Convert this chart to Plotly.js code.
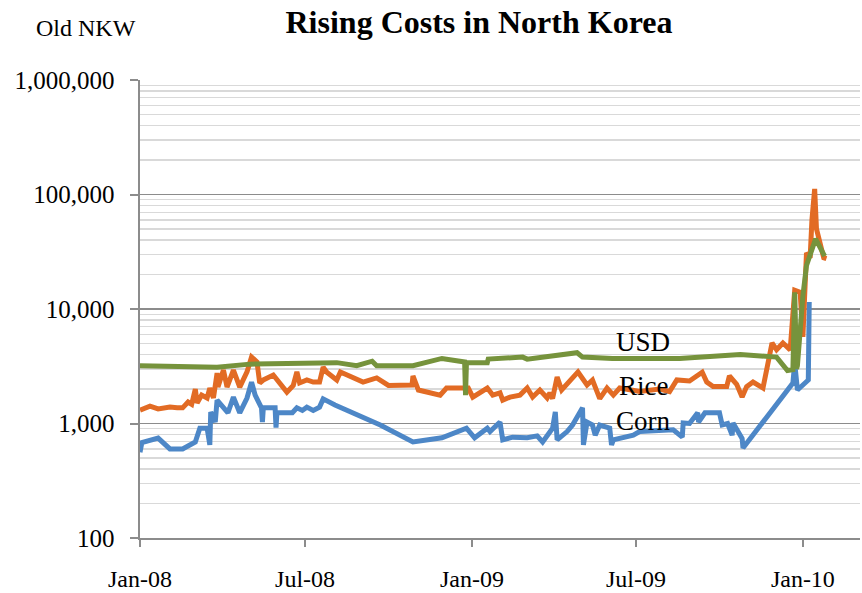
<!DOCTYPE html>
<html>
<head>
<meta charset="utf-8">
<script src="https://cdn.plot.ly/plotly-3.0.1.min.js"></script>
<style>html,body{margin:0;padding:0;background:#fff;}#chart{width:862px;height:593px;}</style>
</head>
<body>
<div id="chart"></div>
<script>
// ---- data ----
const cornDates = ["2008-01-01","2008-01-03","2008-01-21","2008-02-03","2008-02-17","2008-03-02","2008-03-07","2008-03-15","2008-03-18","2008-03-19","2008-03-24","2008-03-26","2008-04-07","2008-04-13","2008-04-20","2008-04-28","2008-05-03","2008-05-07","2008-05-14","2008-05-15","2008-05-16","2008-05-29","2008-05-30","2008-05-31","2008-06-17","2008-06-22","2008-06-28","2008-07-03","2008-07-10","2008-07-17","2008-07-21","2008-08-03","2008-09-22","2008-10-28","2008-11-29","2008-12-26","2009-01-04","2009-01-18","2009-01-21","2009-02-01","2009-02-04","2009-02-15","2009-03-03","2009-03-14","2009-03-20","2009-03-25","2009-03-31","2009-04-03","2009-04-05","2009-04-16","2009-04-22","2009-05-03","2009-05-04","2009-05-08","2009-05-14","2009-05-17","2009-05-22","2009-06-02","2009-06-04","2009-06-06","2009-06-28","2009-07-05","2009-08-11","2009-08-21","2009-08-22","2009-08-29","2009-09-07","2009-09-08","2009-09-15","2009-10-01","2009-10-04","2009-10-10","2009-10-15","2009-10-16","2009-10-26","2009-10-27","2009-12-21","2009-12-23","2009-12-26","2010-01-07","2010-01-08"];
const cornValues = [560,680,745,600,600,690,910,910,650,1260,1030,1600,1240,1700,1240,1670,2300,1770,1370,1030,1370,1370,920,1240,1240,1370,1300,1390,1300,1390,1640,1450,970,690,750,910,750,910,850,1030,720,760,750,780,690,780,910,1260,720,850,970,1370,650,1030,970,790,970,910,650,720,790,850,880,760,1010,1000,1240,1030,1240,1240,970,1000,790,1010,740,610,2260,3370,1960,2400,11500];

const riceDates = ["2008-01-01","2008-01-12","2008-01-21","2008-02-03","2008-02-11","2008-02-17","2008-02-23","2008-02-27","2008-03-02","2008-03-04","2008-03-09","2008-03-15","2008-03-18","2008-03-22","2008-03-26","2008-03-27","2008-04-02","2008-04-06","2008-04-13","2008-04-20","2008-04-28","2008-05-03","2008-05-09","2008-05-12","2008-05-16","2008-05-27","2008-06-11","2008-06-18","2008-06-22","2008-06-25","2008-07-03","2008-07-10","2008-07-17","2008-07-21","2008-07-25","2008-08-05","2008-08-09","2008-09-03","2008-09-18","2008-10-01","2008-10-27","2008-10-28","2008-11-03","2008-11-27","2008-12-04","2008-12-28","2009-01-02","2009-01-10","2009-01-18","2009-01-24","2009-02-01","2009-02-04","2009-02-12","2009-02-23","2009-03-03","2009-03-09","2009-03-17","2009-03-25","2009-03-28","2009-03-31","2009-04-05","2009-04-10","2009-04-28","2009-05-08","2009-05-14","2009-05-22","2009-05-30","2009-06-06","2009-06-13","2009-07-05","2009-07-27","2009-08-07","2009-08-15","2009-08-29","2009-09-12","2009-09-17","2009-09-24","2009-10-09","2009-10-12","2009-10-20","2009-10-26","2009-10-31","2009-11-07","2009-11-18","2009-11-28","2009-12-03","2009-12-10","2009-12-18","2009-12-23","2009-12-29","2010-01-01","2010-01-05","2010-01-09","2010-01-11","2010-01-14","2010-01-16","2010-01-20","2010-01-24","2010-01-27"];
const riceValues = [1310,1420,1340,1390,1370,1370,1540,1470,2000,1510,1770,1670,2040,1670,2760,2080,2930,2080,2930,2080,2820,3810,3450,2260,2400,2650,1880,2150,2820,2260,2400,2300,2300,3110,2800,2400,2820,2300,2500,2150,2170,2600,1960,1770,2040,2040,1700,1850,2040,1770,1850,1600,1700,1770,2040,1700,1960,1670,1850,1650,2550,1960,2820,2170,2400,1650,2040,1770,2040,1900,2000,1900,2400,2350,2800,2300,2100,2100,2600,2200,1700,2100,2300,2040,5050,4400,5050,4400,14600,14000,5700,31000,28000,60000,112000,50000,36000,28000,27500];

const usdDates = ["2008-01-01","2008-03-26","2008-05-01","2008-08-01","2008-08-05","2008-08-27","2008-09-13","2008-09-18","2008-10-28","2008-11-29","2008-12-22","2008-12-24","2008-12-25","2008-12-26","2009-01-18","2009-01-19","2009-02-26","2009-03-03","2009-04-27","2009-05-03","2009-06-05","2009-08-18","2009-10-24","2009-11-15","2009-12-03","2009-12-15","2009-12-21","2009-12-23","2009-12-25","2009-12-26","2010-01-01","2010-01-05","2010-01-15","2010-01-25"];
const usdValues = [3200,3100,3300,3350,3400,3200,3500,3200,3200,3700,3450,3450,1770,3400,3400,3650,3800,3650,4150,3800,3700,3700,4000,3900,3800,2900,2950,14000,3000,3200,13000,24000,41000,29000];

const seriesNames = ["Corn","Rice","USD"];
const seriesColors = ["#4d87c7","#e26b24","#76933c"];

const xTickVals = ["2008-01-01","2008-07-01","2009-01-01","2009-07-01","2010-01-01"];
const xTickText = ["Jan-08","Jul-08","Jan-09","Jul-09","Jan-10"];
const yTickVals = [100,1000,10000,100000,1000000];
const yTickText = ["100","1,000","10,000","100,000","1,000,000"];
const yMinorVals = [200,300,400,500,600,700,800,900,2000,3000,4000,5000,6000,7000,8000,9000,20000,30000,40000,50000,60000,70000,80000,90000,200000,300000,400000,500000,600000,700000,800000,900000];

const FONT = "'Liberation Serif', 'DejaVu Serif', serif";

const xs = [cornDates, riceDates, usdDates];
const ys = [cornValues, riceValues, usdValues];
const traces = seriesNames.map((n, i) => ({
  type: "scatter", mode: "lines", name: n,
  x: xs[i], y: ys[i],
  line: {color: seriesColors[i], width: 5, shape: "linear"},
  hoverinfo: "skip"
}));

const layout = {
  width: 862, height: 593,
  margin: {l: 140, r: 2, t: 80, b: 55},
  paper_bgcolor: "#ffffff", plot_bgcolor: "#ffffff",
  showlegend: false,
  title: {text: "Rising Costs in North Korea", x: 479/862, xanchor: "center", y: 1 - 22/593, yanchor: "middle",
          font: {family: FONT, size: 32, color: "#000", weight: 700}},
  font: {family: FONT, color: "#000"},
  xaxis: {
    type: "date", range: ["2008-01-01", "2010-03-05"],
    tickmode: "array", tickvals: xTickVals, ticktext: xTickText,
    showgrid: false, zeroline: false,
    showline: true, linecolor: "#8c8c8c", linewidth: 2,
    ticks: "outside", ticklen: 7, tickwidth: 2, tickcolor: "#8c8c8c",
    ticklabelstandoff: 11,
    tickfont: {family: FONT, size: 24, color: "#000"}
  },
  yaxis: {
    type: "log", range: [2, 6],
    tickmode: "array", tickvals: yTickVals, ticktext: yTickText,
    showgrid: true, gridcolor: "#8c8c8c", gridwidth: 1.6,
    zeroline: false,
    showline: true, linecolor: "#8c8c8c", linewidth: 2.5,
    ticks: "outside", ticklen: 8, tickwidth: 2, tickcolor: "#8c8c8c",
    ticklabelstandoff: 10,
    tickfont: {family: FONT, size: 25, color: "#000"},
    minor: {tickmode: "array", tickvals: yMinorVals, showgrid: true, gridcolor: "#d9d9d9", gridwidth: 1.4, ticks: ""}
  },
  annotations: [
    {text: "Old NKW", xref: "paper", yref: "paper", x: (86-140)/720, y: (538-28)/458, xanchor: "center", yanchor: "middle", showarrow: false, font: {family: FONT, size: 24, color: "#000"}},
    {text: "USD", xref: "paper", yref: "paper", x: (614-140)/720, y: (538-342)/458, xanchor: "left", yanchor: "middle", showarrow: false, font: {family: FONT, size: 27, color: "#000"}},
    {text: "Rice", xref: "paper", yref: "paper", x: (617-140)/720, y: (538-386)/458, xanchor: "left", yanchor: "middle", showarrow: false, font: {family: FONT, size: 27, color: "#000"}},
    {text: "Corn", xref: "paper", yref: "paper", x: (614-140)/720, y: (538-421)/458, xanchor: "left", yanchor: "middle", showarrow: false, font: {family: FONT, size: 27, color: "#000"}}
  ]
};

Plotly.newPlot("chart", traces, layout, {staticPlot: true, displayModeBar: false});
</script>
</body>
</html>
